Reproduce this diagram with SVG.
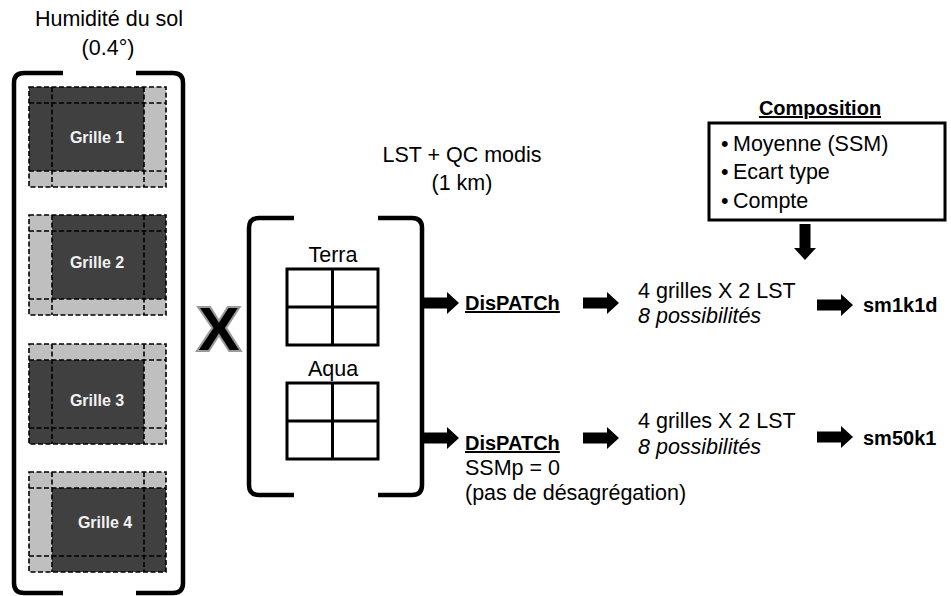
<svg xmlns="http://www.w3.org/2000/svg" width="951" height="596" viewBox="0 0 951 596">
<defs>
<style>
text{font-family:"Liberation Sans",Arial,sans-serif;fill:#000}
.t{font-size:21.5px}
.b{font-size:20px;font-weight:bold}
.i{font-size:21.5px;font-style:italic}
.g{font-size:16px;font-weight:bold;fill:#f2f2f2;text-anchor:middle}
.c{text-anchor:middle}
.u{text-decoration:underline}
.br{fill:none;stroke:#000;stroke-width:4.5;stroke-linejoin:round}
.dk{fill:#404040}
.lt{fill:#bfbfbf}
.ds{fill:none;stroke:#000;stroke-width:1.6;stroke-dasharray:5 2.5}
.sq{fill:#fff;stroke:#000;stroke-width:3}
.ln{stroke:#000;stroke-width:3}
.ar{fill:#000}
</style>
<path id="arr" d="M0,-5.5 H24 V-11 L36,0 L24,11 V5.5 H0 Z"/>
</defs>
<rect width="951" height="596" fill="#fff"/>

<g id="soil-title">
<text class="t c" x="109" y="26">Humidité du sol</text>
<text class="t c" x="108" y="55">(0.4°)</text>
</g>

<g id="soil-bracket">
<path class="br" d="M63,73 H24 Q14,73 14,83 V583 Q14,593 24,593 H63"/>
<path class="br" d="M136,73 H173 Q183,73 183,83 V583 Q183,593 173,593 H136"/>
</g>

<g id="grille1">
<rect class="lt" x="29" y="87" width="137" height="100"/>
<rect class="dk" x="29" y="87" width="115" height="84"/>
<path class="ds" d="M29,87 H166 V187 H29 Z M52,87 V187 M144,87 V187 M29,103 H166 M29,171 H166"/>
<text class="g" x="97" y="143">Grille 1</text>
</g>

<g id="grille2">
<rect class="lt" x="29" y="215" width="137" height="100"/>
<rect class="dk" x="52" y="215" width="114" height="84"/>
<path class="ds" d="M29,215 H166 V315 H29 Z M52,215 V315 M144,215 V315 M29,231 H166 M29,299 H166"/>
<text class="g" x="97" y="268">Grille 2</text>
</g>

<g id="grille3">
<rect class="lt" x="29" y="344" width="137" height="100"/>
<rect class="dk" x="29" y="360" width="115" height="84"/>
<path class="ds" d="M29,344 H166 V444 H29 Z M52,344 V444 M144,344 V444 M29,360 H166 M29,428 H166"/>
<text class="g" x="97" y="406">Grille 3</text>
</g>

<g id="grille4">
<rect class="lt" x="29" y="472" width="137" height="100"/>
<rect class="dk" x="52" y="488" width="114" height="84"/>
<path class="ds" d="M29,472 H166 V572 H29 Z M52,472 V572 M144,472 V572 M29,488 H166 M29,556 H166"/>
<text class="g" x="105" y="528">Grille 4</text>
</g>

<g id="times">
<text x="219" y="350" text-anchor="middle" style="font-size:62px;font-weight:bold;stroke:#9a9a9a;stroke-width:4;paint-order:stroke">X</text>
</g>

<g id="lst-title">
<text class="t c" x="462" y="162">LST + QC modis</text>
<text class="t c" x="462" y="190">(1 km)</text>
</g>

<g id="lst-bracket">
<path class="br" d="M294,218 H259 Q249,218 249,228 V485 Q249,495 259,495 H294"/>
<path class="br" d="M378,218 H412 Q422,218 422,228 V485 Q422,495 412,495 H378"/>
</g>

<g id="terra">
<text class="t c" x="333" y="262">Terra</text>
<rect class="sq" x="287" y="269" width="91" height="76"/>
<path class="ln" d="M332.5,269 V345 M287,307 H378"/>
</g>

<g id="aqua">
<text class="t c" x="333" y="376">Aqua</text>
<rect class="sq" x="287" y="383" width="91" height="76"/>
<path class="ln" d="M332.5,383 V459 M287,421 H378"/>
</g>

<g id="dispatch1">
<text class="b u" x="465" y="310">DisPATCh</text>
</g>

<g id="dispatch2">
<text class="b u" x="465" y="450">DisPATCh</text>
<text class="t" x="465" y="475">SSMp = 0</text>
<text class="t" x="465" y="500">(pas de désagrégation)</text>
</g>

<g id="result1">
<text class="t" x="638" y="298">4 grilles X 2 LST</text>
<text class="i" x="638" y="323">8 possibilités</text>
</g>

<g id="result2">
<text class="t" x="638" y="428">4 grilles X 2 LST</text>
<text class="i" x="638" y="454">8 possibilités</text>
</g>

<g id="composition">
<text class="b u c" x="820" y="115">Composition</text>
<rect x="709" y="123" width="236" height="97" fill="#fff" stroke="#000" stroke-width="3"/>
<text class="t" x="721" y="151">•</text><text class="t" x="733" y="151">Moyenne (SSM)</text>
<text class="t" x="721" y="179">•</text><text class="t" x="733" y="179">Ecart type</text>
<text class="t" x="721" y="208">•</text><text class="t" x="733" y="208">Compte</text>
</g>

<g id="sm1k1d">
<text class="b" x="863" y="312">sm1k1d</text>
</g>

<g id="sm50k1">
<text class="b" x="863" y="445">sm50k1</text>
</g>

<g id="connectors">
<use href="#arr" class="ar" transform="translate(423,303)"/>
<use href="#arr" class="ar" transform="translate(583,303)"/>
<use href="#arr" class="ar" transform="translate(817,305)"/>
<use href="#arr" class="ar" transform="translate(423,438)"/>
<use href="#arr" class="ar" transform="translate(583,438)"/>
<use href="#arr" class="ar" transform="translate(817,437)"/>
<use href="#arr" class="ar" transform="translate(805,224) rotate(90)"/>
</g>
</svg>
